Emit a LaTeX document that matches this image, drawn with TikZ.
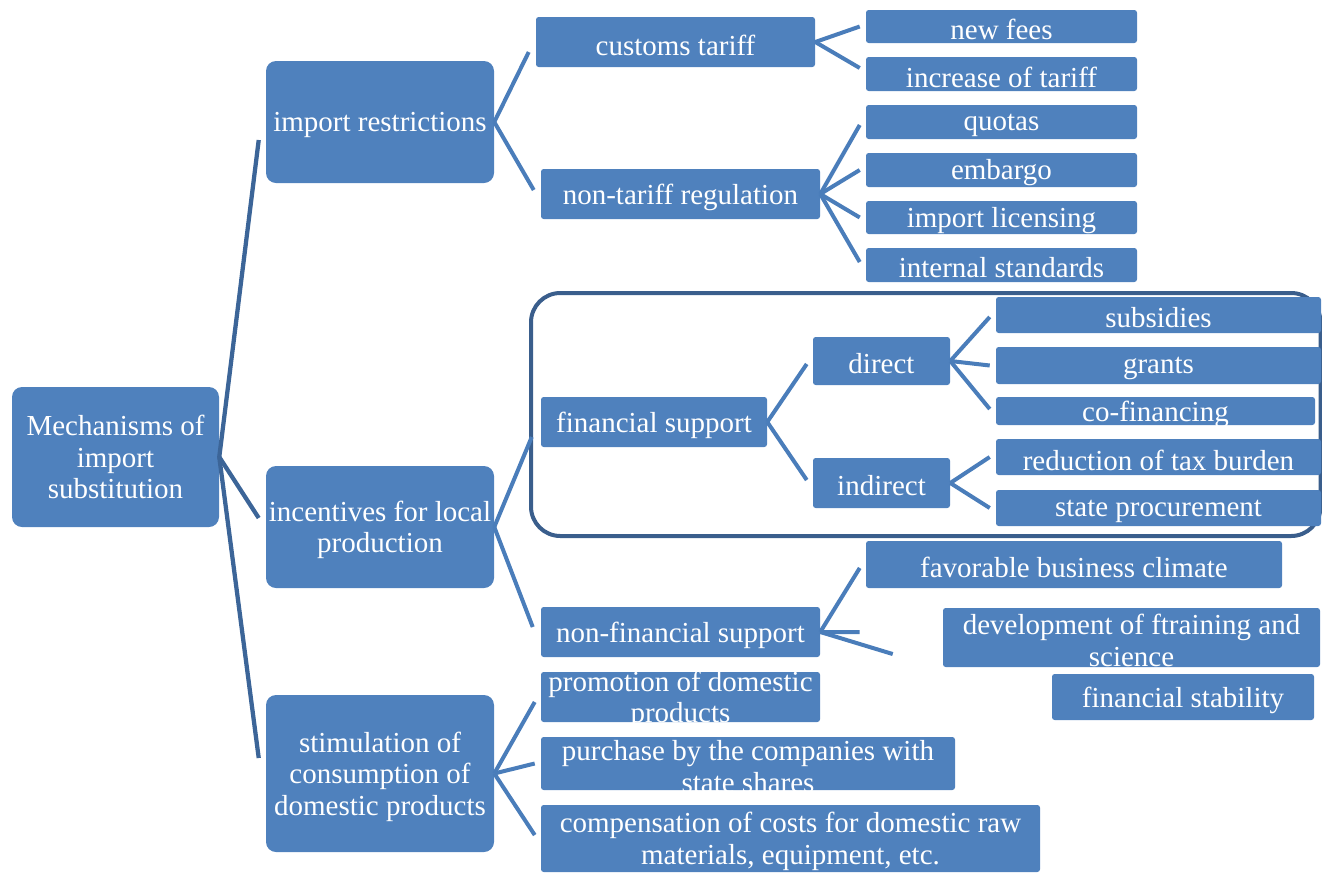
\documentclass[tikz,border=0pt]{standalone}
\usepackage{fontspec}
\setmainfont{Liberation Serif}
\definecolor{boxblue}{HTML}{4F81BD}
\definecolor{linkblue}{HTML}{4A7DBA}
\definecolor{rootline}{HTML}{3C6598}
\definecolor{framedark}{HTML}{3A5E8C}

\tikzset{
  box/.style={fill=boxblue, inner sep=0pt, rounded corners=2pt},
  bigbox/.style={box, rounded corners=7.5pt},
  txt/.style={text=white, align=center, yshift=-2.25pt, font=\fontsize{21.75}{23.6}\selectfont},
  link/.style={linkblue, line width=3pt},
  rootlink/.style={rootline, line width=3.2pt},
}

\begin{document}
\begin{tikzpicture}[x=0.75pt, y=-0.75pt]
\useasboundingbox (0,0) rectangle (1322,872);

% level 0 and 1
\node[bigbox, minimum width=155.25pt, minimum height=105pt, label={[txt, yshift=2.25pt]center:{Mechanisms of\\import\\substitution}}] (root) at (115.5,457) {};
\node[bigbox, minimum width=171pt, minimum height=91.5pt, label={[txt]center:{import restrictions}}] (imp) at (380,122) {};
\node[bigbox, minimum width=171pt, minimum height=91.5pt, label={[txt]center:{incentives for local\\production}}] (inc) at (380,527) {};
\node[bigbox, minimum width=171pt, minimum height=117.75pt, label={[txt]center:{stimulation of\\consumption of\\domestic products}}] (stim) at (380,773.5) {};

% import restrictions
\node[box, minimum width=209.25pt, minimum height=37.5pt, label={[txt]center:{customs tariff}}] (ct) at (675.5,42) {};
\node[box, minimum width=209.25pt, minimum height=37.5pt, label={[txt]center:{non-tariff regulation}}] (ntr) at (680.5,194) {};
\node[box, minimum width=203.25pt, minimum height=24.75pt, label={[txt]center:{new fees}}] (fee) at (1001.5,26.5) {};
\node[box, minimum width=203.25pt, minimum height=25.5pt, label={[txt]center:{increase of tariff}}] (inctar) at (1001.5,74) {};
\node[box, minimum width=203.25pt, minimum height=25.5pt, label={[txt]center:{quotas}}] (quo) at (1001.5,122) {};
\node[box, minimum width=203.25pt, minimum height=25.5pt, label={[txt]center:{embargo}}] (emb) at (1001.5,170) {};
\node[box, minimum width=203.25pt, minimum height=24.75pt, label={[txt]center:{import licensing}}] (lic) at (1001.5,217.5) {};
\node[box, minimum width=203.25pt, minimum height=25.5pt, label={[txt]center:{internal standards}}] (std) at (1001.5,265) {};

% financial support
\draw[framedark, line width=3pt, rounded corners=22pt] (531,293) rectangle (1320.5,536);
\node[box, minimum width=169.5pt, minimum height=37.5pt, label={[txt]center:{financial support}}] (fin) at (654,422) {};
\node[box, minimum width=102.75pt, minimum height=36pt, label={[txt]center:{direct}}] (dir) at (881.5,361) {};
\node[box, minimum width=102.75pt, minimum height=37.5pt, label={[txt]center:{indirect}}] (ind) at (881.5,483) {};
\node[box, minimum width=243.75pt, minimum height=27pt, label={[txt]center:{subsidies}}] (sub) at (1158.5,315) {};
\node[box, minimum width=243.75pt, minimum height=27.75pt, label={[txt]center:{grants}}] (gra) at (1158.5,365.5) {};
\node[box, minimum width=239.25pt, minimum height=21pt, label={[txt]center:{co-financing}}] (cof) at (1155.5,411) {};
\node[box, minimum width=243.75pt, minimum height=27pt, label={[txt]center:{reduction of tax burden}}] (tax) at (1158.5,457) {};
\node[box, minimum width=243.75pt, minimum height=27pt, label={[txt]center:{state procurement}}] (proc) at (1158.5,508) {};

% non-financial support
\node[box, minimum width=209.25pt, minimum height=37.5pt, label={[txt]center:{non-financial support}}] (nfs) at (680.5,632) {};
\node[box, minimum width=312pt, minimum height=35.25pt, label={[txt]center:{favorable business climate}}] (fav) at (1074,564.5) {};
\node[box, minimum width=282.75pt, minimum height=44.25pt, label={[txt]center:{development of ftraining and\\science}}] (dev) at (1131.5,637.5) {};
\node[box, minimum width=196.5pt, minimum height=34.5pt, label={[txt]center:{financial stability}}] (stab) at (1183,697) {};

% consumption
\node[box, minimum width=209.25pt, minimum height=37.5pt, label={[txt]center:{promotion of domestic\\products}}] (prom) at (680.5,697) {};
\node[box, minimum width=310.5pt, minimum height=39.75pt, label={[txt]center:{purchase by the companies with\\state shares}}] (pur) at (748,763.5) {};
\node[box, minimum width=374.25pt, minimum height=50.25pt, label={[txt]center:{compensation of costs for domestic raw\\materials, equipment, etc.}}] (comp) at (790.5,838.5) {};

% connectors
\draw[rootlink] (root.east) -- ([xshift=-5.25pt,yshift=-13.5pt]imp.west);
\draw[rootlink] (root.east) -- ([xshift=-5.25pt,yshift=6.75pt]inc.west);
\draw[rootlink] (root.east) -- ([xshift=-5.25pt,yshift=11.6pt]stim.west);

\draw[link] (imp.east) -- ([xshift=-5.25pt,yshift=-7.5pt]ct.west);
\draw[link] (imp.east) -- ([xshift=-5.25pt,yshift=3pt]ntr.west);
\draw[link] (ct.east) -- ([xshift=-4.5pt]fee.west);
\draw[link] (ct.east) -- ([xshift=-4.5pt,yshift=4.5pt]inctar.west);
\draw[link] (ntr.east) -- ([xshift=-4.5pt,yshift=-2.25pt]quo.west);
\draw[link] (ntr.east) -- ([xshift=-4.5pt]emb.west);
\draw[link] (ntr.east) -- ([xshift=-4.5pt]lic.west);
\draw[link] (ntr.east) -- ([xshift=-4.5pt,yshift=2.25pt]std.west);

\draw[link] (inc.east) -- ([xshift=-6.75pt,yshift=-11.25pt]fin.west);
\draw[link] (inc.east) -- ([xshift=-6pt,yshift=3.75pt]nfs.west);
\draw[link] (fin.east) -- ([xshift=-4.5pt,yshift=-2.25pt]dir.west);
\draw[link] (fin.east) -- ([xshift=-4.5pt,yshift=2.25pt]ind.west);
\draw[link] (dir.east) -- ([xshift=-4.5pt,yshift=-1.5pt]sub.west);
\draw[link] (dir.east) -- ([xshift=-4.5pt]gra.west);
\draw[link] (dir.east) -- ([xshift=-4.5pt,yshift=1.5pt]cof.west);
\draw[link] (ind.east) -- ([xshift=-4.5pt]tax.west);
\draw[link] (ind.east) -- ([xshift=-4.5pt]proc.west);

\draw[link] (nfs.east) -- ([xshift=-4.5pt,yshift=-2.6pt]fav.west);
\draw[link] (nfs.east) -- ([xshift=-62.25pt,yshift=4.1pt]dev.west);
\draw[link] (nfs.east) -- ([xshift=-37.5pt,yshift=-12.4pt]dev.west);

\draw[link] (stim.east) -- ([xshift=-4.5pt,yshift=-3.75pt]prom.west);
\draw[link] (stim.east) -- ([xshift=-4.5pt]pur.west);
\draw[link] (stim.east) -- ([xshift=-4.5pt,yshift=2.6pt]comp.west);
\end{tikzpicture}
\end{document}
